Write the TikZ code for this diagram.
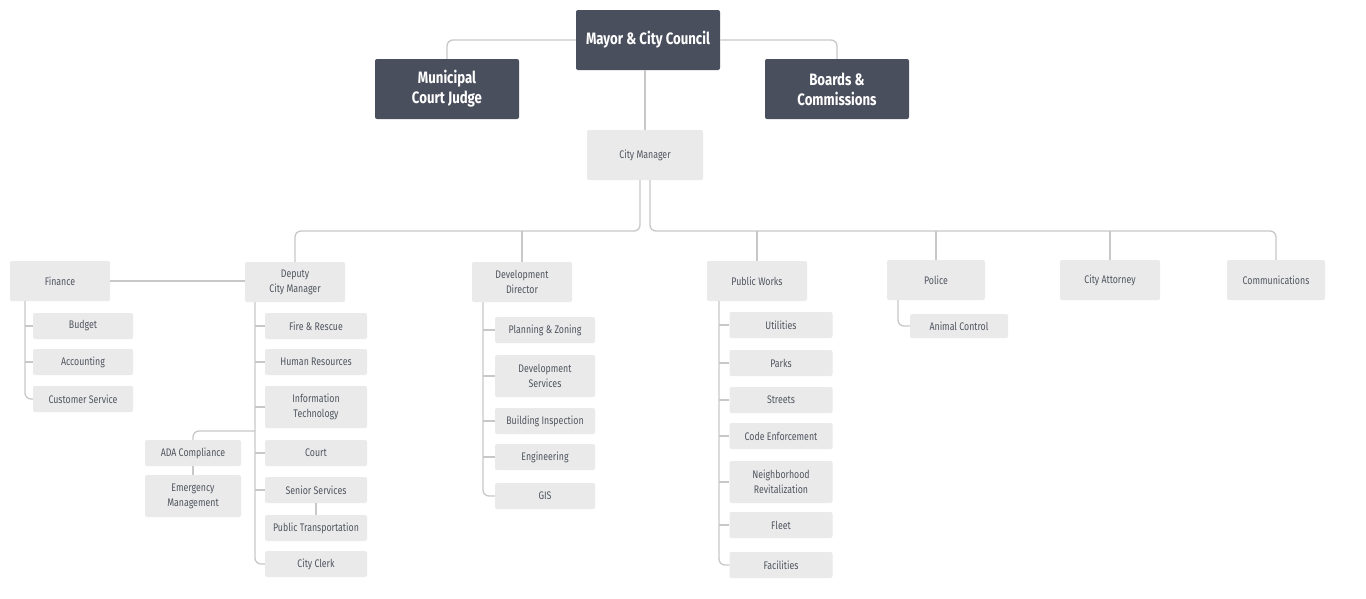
\documentclass[tikz,border=0pt]{standalone}
\usepackage{fontspec}
\setmainfont[FakeStretch=0.8]{Fira Sans}
\usetikzlibrary{calc}
\definecolor{dark}{RGB}{74,79,94}
\definecolor{light}{RGB}{234,234,234}
\definecolor{txt}{RGB}{80,85,95}
\definecolor{linec}{RGB}{200,200,200}
\begin{document}
\begin{tikzpicture}[x=1pt,y=-1pt,
  top/.style={fill=dark, text=white, font=\bfseries\fontsize{16.5}{20}\selectfont, minimum width=144pt, minimum height=60pt, align=center, rounded corners=2pt, inner sep=0pt},
  lbox/.style={fill=light, text=txt, font=\fontsize{11}{15}\selectfont, align=center, rounded corners=2pt, inner sep=0pt, minimum width=100pt, minimum height=26pt},
  l2/.style={lbox, minimum height=40pt},
  tall/.style={minimum height=42pt},
  conn/.style={draw=linec, line width=1.3pt, rounded corners=6pt}]
\fill[white] (0,0) rectangle (1366,598);
\useasboundingbox (0,0) rectangle (1366,598);
% top level
\node[top] (mayor) at (648,40) {Mayor \& City Council};
\node[top] (mcj) at (447,89) {Municipal\\Court Judge};
\node[top] (bc) at (837,89) {Boards \&\\Commissions};
\node[lbox, minimum width=116pt, minimum height=50pt] (cm) at (645,155) {City Manager};
% level 2
\node[l2] (fin) at (60,281) {Finance};
\node[l2] (dcm) at (295,282) {Deputy\\City Manager};
\node[l2] (ddir) at (522,282) {Development\\Director};
\node[l2] (pw) at (757,281) {Public Works};
\node[l2, minimum width=98pt] (pol) at (936,280) {Police};
\node[l2] (ca) at (1110,280) {City Attorney};
\node[l2, minimum width=98pt] (com) at (1276,280) {Communications};
% finance children
\node[lbox] (budget) at (83,326) {Budget};
\node[lbox] (acct) at (83,362) {Accounting};
\node[lbox] (cs) at (83,399) {Customer Service};
% deputy children
\node[lbox, minimum width=102pt] (fire) at (316,326) {Fire \& Rescue};
\node[lbox, minimum width=102pt] (hr) at (316,362) {Human Resources};
\node[lbox, tall, minimum width=102pt] (it) at (316,407) {Information\\Technology};
\node[lbox, minimum width=102pt] (court) at (316,453) {Court};
\node[lbox, minimum width=102pt] (senior) at (316,490) {Senior Services};
\node[lbox, minimum width=102pt] (pt) at (316,528) {Public Transportation};
\node[lbox, minimum width=102pt] (clerk) at (316,564) {City Clerk};
\node[lbox, minimum width=96pt] (ada) at (193,453) {ADA Compliance};
\node[lbox, tall, minimum width=96pt] (em) at (193,496) {Emergency\\Management};
% development children
\node[lbox] (plan) at (545,330) {Planning \& Zoning};
\node[lbox, tall] (dsvc) at (545,376) {Development\\Services};
\node[lbox] (bi) at (545,421) {Building Inspection};
\node[lbox] (eng) at (545,457) {Engineering};
\node[lbox] (gis) at (545,496) {GIS};
% public works children
\node[lbox, minimum width=103pt] (util) at (781,325) {Utilities};
\node[lbox, minimum width=103pt] (parks) at (781,363) {Parks};
\node[lbox, minimum width=103pt] (streets) at (781,400) {Streets};
\node[lbox, minimum width=103pt] (code) at (781,436) {Code Enforcement};
\node[lbox, tall, minimum width=103pt] (nr) at (781,482) {Neighborhood\\Revitalization};
\node[lbox, minimum width=103pt] (fleet) at (781,525) {Fleet};
\node[lbox, minimum width=103pt] (fac) at (781,565) {Facilities};
% police child
\node[lbox, minimum width=98pt, minimum height=24pt] (ac) at (959,326) {Animal Control};
% helper coordinates
\coordinate (busY) at (0,231);
\coordinate (tF) at (25,0);
\coordinate (tD) at (255,0);
\coordinate (tV) at (483,0);
\coordinate (tW) at (719,0);
\coordinate (tP) at (898,0);
\coordinate (adaJ) at (255,431);
% connectors top
\draw[conn] (mayor.west) -| (mcj.north);
\draw[conn] (mayor.east) -| (bc.north);
\draw[conn] (cm.north |- mayor.south) -- (cm.north);
\draw[conn] ([xshift=-5pt]cm.south) |- (dcm.north |- busY) -- (dcm.north);
\draw[conn] ([xshift=5pt]cm.south) |- (com.north |- busY) -- (com.north);
\draw[conn] (ddir.north |- busY) -- (ddir.north);
\draw[conn] (pw.north |- busY) -- (pw.north);
\draw[conn] (pol.north |- busY) -- (pol.north);
\draw[conn] (ca.north |- busY) -- (ca.north);
% finance
\draw[conn] (fin.east) -- (fin.east -| dcm.west);
\draw[conn] (fin.south -| tF) |- (cs.west);
\foreach \n in {budget,acct} \draw[conn] (\n.west -| tF) -- (\n.west);
% deputy
\draw[conn] (dcm.south -| tD) |- (clerk.west);
\foreach \n in {fire,hr,it,court,senior} \draw[conn] (\n.west -| tD) -- (\n.west);
\draw[conn] (senior.south) -- (pt.north);
\draw[conn] (adaJ) -| (ada.north);
\draw[conn] (ada.south) -- (em.north);
% development
\draw[conn] (ddir.south -| tV) |- (gis.west);
\foreach \n in {plan,dsvc,bi,eng} \draw[conn] (\n.west -| tV) -- (\n.west);
% public works
\draw[conn] (pw.south -| tW) |- (fac.west);
\foreach \n in {util,parks,streets,code,nr,fleet} \draw[conn] (\n.west -| tW) -- (\n.west);
% police
\draw[conn] (pol.south -| tP) |- (ac.west);
\end{tikzpicture}
\end{document}
